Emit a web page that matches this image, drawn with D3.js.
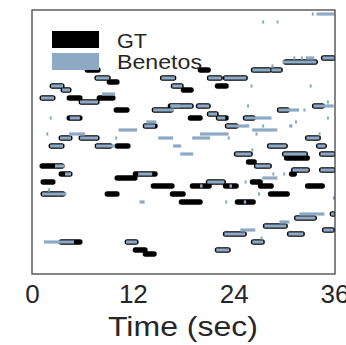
<!DOCTYPE html>
<html>
<head>
<meta charset="utf-8">
<script src="https://cdn.jsdelivr.net/npm/d3@7"></script>
<style>
  html, body { margin: 0; padding: 0; background: #fff; }
  svg { display: block; font-family: "Liberation Sans", Arial, sans-serif; }
</style>
</head>
<body>
<div id="chart"></div>
<script>
// ---- data: [onset (sec), offset (sec), MIDI pitch] ----
const gtNotes = [
  [6.44, 7.99, 87], [7.6, 9.2, 85], [9.06, 10.25, 84], [2.27, 3.7, 83], [3.58, 4.53, 82],
  [1.07, 2.62, 80], [4.29, 5.84, 80], [5.72, 7.87, 79], [7.87, 9.77, 80], [9.89, 11.44, 77],
  [14.42, 16.69, 77], [4.29, 5.84, 75], [13.35, 14.78, 73], [19.9, 21.1, 87], [15.4, 17.0, 85],
  [20.98, 22.53, 85], [22.89, 25.51, 85], [16.69, 17.88, 83], [17.88, 19.07, 82], [21.93, 23.24, 83],
  [16.33, 19.07, 78], [19.67, 21.1, 78], [18.71, 20.14, 75], [20.98, 22.05, 76], [22.05, 23.24, 75],
  [25.27, 26.46, 75], [23.12, 24.43, 73], [32.66, 34.21, 70], [30.04, 33.85, 89], [34.56, 36, 90],
  [26.22, 28.37, 87], [28.49, 29.68, 87], [29.32, 30.51, 77], [33.49, 34.68, 78], [3.34, 4.65, 70],
  [5.72, 7.87, 70], [2.15, 3.7, 68], [7.63, 9.42, 68], [10.0, 11.56, 68], [1.07, 3.7, 63],
  [3.34, 4.65, 61], [1.19, 2.62, 59], [1.19, 3.81, 56], [8.82, 10.25, 56], [10.0, 12.39, 60],
  [12.16, 14.78, 61], [14.3, 16.8, 58], [16.57, 18.12, 56], [17.64, 20.14, 54], [18.95, 21.22, 58],
  [20.86, 22.89, 59], [22.89, 24.43, 58], [26.1, 27.29, 59], [27.05, 28.6, 58], [32.66, 34.68, 58],
  [24.31, 26.46, 54], [28.25, 30.51, 56], [11.2, 12.51, 44], [3.34, 5.84, 44], [12.16, 13.59, 42],
  [13.35, 14.66, 41], [21.93, 23.48, 42], [22.89, 25.39, 46], [27.65, 30.27, 48], [31.35, 33.73, 50],
  [35.6, 36, 51], [34.68, 35.88, 47], [30.51, 32.3, 46], [26.22, 27.53, 44], [24.2, 26.1, 66],
  [29.92, 32.66, 66], [30.16, 32.9, 65], [34.33, 36, 66], [25.63, 26.58, 64], [26.58, 28.37, 63],
  [31.0, 32.9, 62], [30.75, 31.35, 61], [34.33, 36, 62], [28.13, 30.27, 68], [33.97, 34.92, 68]
];

const benetosNotes = [
  [7.6, 9.2, 85], [2.27, 3.7, 83], [3.58, 4.53, 82], [1.07, 2.62, 80], [5.72, 7.87, 79],
  [8.34, 9.89, 81], [14.42, 16.9, 77], [16.45, 17.64, 78], [4.5, 5.7, 75], [13.35, 14.66, 73],
  [10.3, 12.5, 72], [13.6, 14.8, 74], [15.4, 17.0, 85], [20.98, 22.53, 85], [22.89, 25.51, 85],
  [16.69, 17.88, 83], [16.57, 19.07, 78], [19.67, 21.1, 78], [20.98, 22.05, 76], [22.05, 23.0, 75],
  [25.27, 28.5, 75], [23.12, 25.86, 73], [32.66, 34.21, 70], [29.8, 33.85, 89], [31.1, 31.3, 90],
  [32.0, 32.2, 90], [32.6, 33.6, 90], [34.56, 36, 90], [26.22, 28.37, 87], [28.49, 29.68, 87],
  [28.5, 28.7, 88], [29.32, 31.8, 77], [33.49, 35.9, 78], [3.34, 4.65, 70], [5.72, 7.87, 70],
  [4.41, 6.32, 71], [2.15, 3.7, 68], [7.63, 9.9, 68], [2.74, 3.81, 63], [3.93, 4.65, 61],
  [1.19, 4.1, 56], [12.63, 14.3, 61], [20.0, 20.3, 58], [20.86, 22.89, 59], [23.5, 23.8, 58],
  [25.2, 25.5, 54], [11.2, 12.51, 44], [1.43, 5.0, 44], [21.93, 23.48, 42], [22.89, 25.39, 46],
  [24.79, 26.58, 47], [27.65, 30.27, 48], [29.44, 30.63, 49], [31.35, 33.73, 50], [31.82, 34.8, 51],
  [35.6, 36, 51], [34.68, 35.88, 47], [30.51, 32.3, 46], [26.22, 27.53, 44], [24.2, 26.1, 66],
  [29.92, 32.66, 66], [34.33, 36, 66], [26.58, 28.37, 63], [31.0, 32.9, 62], [34.33, 36, 62],
  [28.13, 30.27, 68], [33.97, 34.92, 68],
  [33.3, 33.5, 101], [33.85, 36, 101], [27.4, 27.6, 99], [29.1, 29.3, 99], [26.0, 26.2, 83],
  [33.05, 33.25, 83], [2.1, 2.3, 75], [1.7, 1.9, 71], [19.07, 21.2, 70], [20.0, 23.4, 71],
  [23.3, 23.5, 70], [15.02, 16.8, 70], [16.8, 17.76, 68], [17.64, 19.19, 66], [26.2, 29.2, 72],
  [26.6, 26.8, 71], [27.4, 27.6, 73], [30.6, 31.0, 73], [31.3, 31.5, 74], [32.3, 32.5, 77],
  [25.6, 25.8, 78], [35.1, 35.3, 79], [35.1, 35.3, 75], [34.1, 34.3, 71], [12.8, 13.4, 54],
  [23.0, 23.2, 54], [26.9, 27.1, 56], [35.8, 35.95, 55], [25.3, 25.45, 59], [27.4, 29.2, 60],
  [28.6, 28.8, 61], [29.9, 30.1, 61], [26.1, 26.3, 67], [27.2, 27.4, 45], [9.9, 10.1, 70],
  [1.9, 2.1, 57]
];

const xTicks = [0, 12, 24, 36];
const xDomain = [0, 36];
const pitchDomain = [36, 102];
const seriesNames = ["GT", "Benetos"];
const xLabel = "Time (sec)";

// ---- drawing ----
const W = 346, H = 345;
const mLeft = 32, mRight = 334.5, mTop = 10, mBottom = 274;
const gtColor = "#000000", beColor = "#8DA9C3";

const x = d3.scaleLinear().domain(xDomain).range([mLeft, mRight]);
const y = d3.scaleLinear().domain(pitchDomain).range([mBottom, mTop]);

const svg = d3.select("#chart").append("svg").attr("width", W).attr("height", H);

svg.append("defs").append("clipPath").attr("id", "plotclip")
  .append("rect").attr("x", mLeft).attr("y", mTop).attr("width", 335 - mLeft).attr("height", mBottom - mTop);

const plot = svg.append("g").attr("clip-path", "url(#plotclip)");

// GT notes: black rounded bars, slightly larger
plot.append("g").selectAll("rect").data(gtNotes).join("rect")
  .attr("x", d => x(d[0]) - 1.5)
  .attr("width", d => x(d[1]) - x(d[0]) + 3)
  .attr("y", d => y(d[2]) - 2.7)
  .attr("height", 5.4)
  .attr("rx", 2.6).attr("ry", 2.6)
  .attr("fill", gtColor);

// Benetos notes: light blue bars on top
plot.append("g").selectAll("rect").data(benetosNotes).join("rect")
  .attr("x", d => x(d[0]))
  .attr("width", d => Math.max(2, x(d[1]) - x(d[0])))
  .attr("y", d => y(d[2]) - 1.6)
  .attr("height", 3.2)
  .attr("fill", beColor);

// frame
svg.append("rect").attr("x", mLeft).attr("y", mTop)
  .attr("width", 335 - mLeft).attr("height", mBottom - mTop)
  .attr("fill", "none").attr("stroke", "#333").attr("stroke-width", 1.2);

// x axis
const axis = svg.append("g").attr("transform", `translate(0,${mBottom})`)
  .call(d3.axisBottom(x).tickValues(xTicks).tickSize(0).tickFormat(d3.format("d")));
axis.select(".domain").remove();
axis.selectAll("text")
  .attr("y", 29).attr("dy", 0)
  .attr("font-size", 26)
  .attr("font-family", "Liberation Sans, Arial, sans-serif")
  .attr("fill", "#262626");

svg.append("text")
  .attr("x", 183).attr("y", 336)
  .attr("text-anchor", "middle")
  .attr("font-size", 27)
  .attr("fill", "#262626")
  .attr("textLength", 150).attr("lengthAdjust", "spacingAndGlyphs")
  .text(xLabel);

// legend
const legend = svg.append("g");
const legColors = [gtColor, beColor];
const legWidths = [30, 85];
seriesNames.forEach((name, i) => {
  legend.append("rect")
    .attr("x", 52).attr("y", 31 + i * 22)
    .attr("width", 47).attr("height", 17)
    .attr("fill", legColors[i]);
  legend.append("text")
    .attr("x", 117).attr("y", 47.5 + i * 21)
    .attr("font-size", 21)
    .attr("fill", "#262626")
    .attr("textLength", legWidths[i]).attr("lengthAdjust", "spacingAndGlyphs")
    .text(name);
});
</script>
</body>
</html>
